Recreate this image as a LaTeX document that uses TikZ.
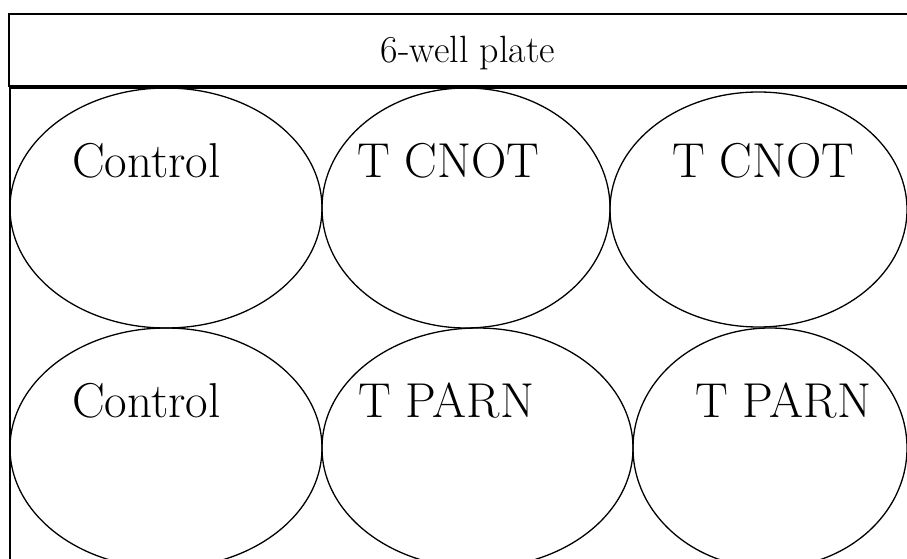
\documentclass[tikz,border=0pt]{standalone}
\usepackage{fontspec}
\begin{document}
\begin{tikzpicture}[x=1pt,y=-1pt,
  frame/.style={draw=black,line width=1.6pt},
  well/.style={draw=black,line width=1.3pt},
  lab/.style={anchor=base west,inner sep=0pt,font=\fontsize{49}{53}\selectfont},
  head/.style={anchor=base,inner sep=0pt,font=\fontsize{38}{42}\selectfont}]
\useasboundingbox (0,0) rectangle (907,559);
% header box
\draw[frame] (908,14) -- (9,14) -- (9,86) -- (908,86);
\node[head] (title) at (468,63) {6-well plate};
% plate body
\draw[frame] (10,600) -- (10,88) -- (908,88);
% wells
\draw[well] (166,208) ellipse [x radius=156,y radius=120];
\draw[well] (466,208) ellipse [x radius=144,y radius=120];
\draw[well] (758.5,209.5) ellipse [x radius=148.5,y radius=117.5];
\draw[well] (166,448) ellipse [x radius=156,y radius=120];
\draw[well] (477.5,448) ellipse [x radius=155.5,y radius=120];
\draw[well] (770,448) ellipse [x radius=137,y radius=120];
% labels
\node[lab] (c1) at (72,177) {Control};
\node[lab] (t1) at (357,177) {T CNOT};
\node[lab] (t2) at (672,177) {T CNOT};
\node[lab] (c2) at (72,417) {Control};
\node[lab] (p1) at (358,417) {T PARN};
\node[lab] (p2) at (695,417) {T PARN};
\end{tikzpicture}
\end{document}
